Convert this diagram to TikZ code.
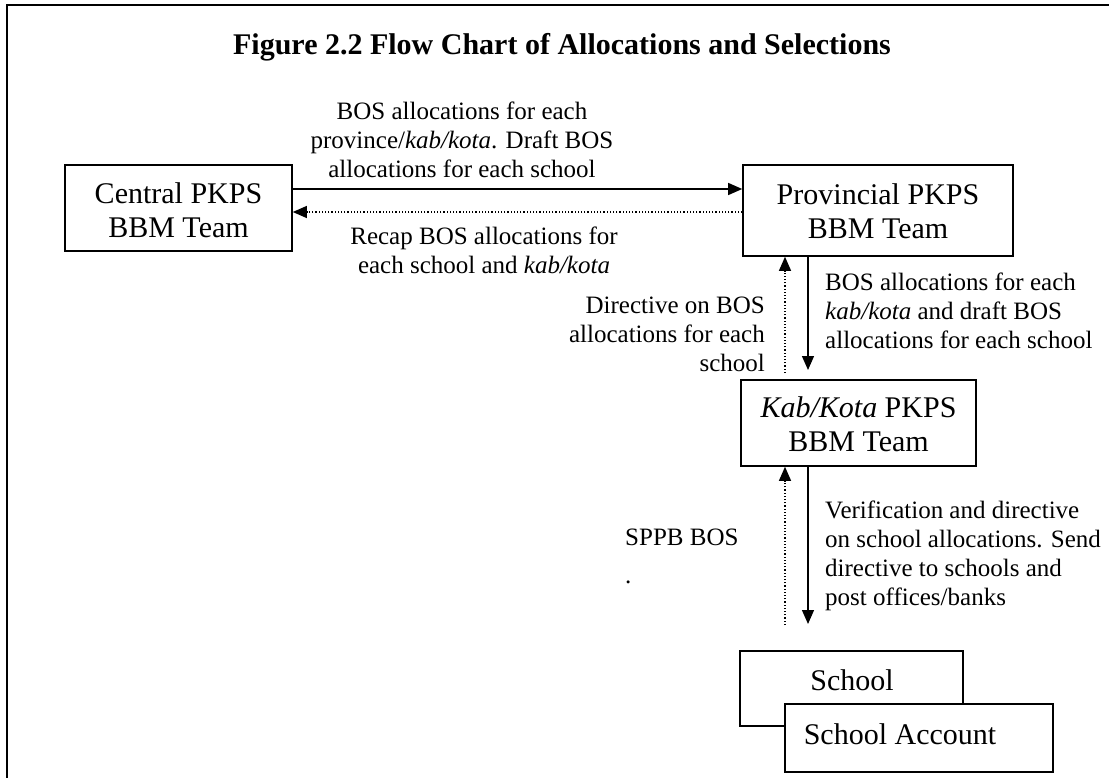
\documentclass[tikz,border=0pt]{standalone}
\usepackage{fontspec}
\setmainfont{Liberation Serif}
\usetikzlibrary{arrows.meta}
\tikzset{
  box/.style={draw, line width=1.6pt, fill=white, inner sep=0pt},
  bigtxt/.style={font=\fontsize{30}{34}\selectfont, align=center, inner sep=0pt},
  smalltxt/.style={font=\fontsize{25}{29}\selectfont, inner sep=0pt},
  arr/.style={line width=1.3pt, -{Triangle[width=12pt,length=14pt]}},
  dotarr/.style={line width=1.1pt, dash pattern=on 1.2pt off 2pt, -{Triangle[width=12pt,length=14pt]}},
}
\begin{document}
\begin{tikzpicture}[x=1pt,y=-1pt]
\useasboundingbox (0,0) rectangle (1109,778);
% outer frame
\draw[line width=2pt] (7,780) -- (7,5) -- (1111,5);
% title
\node[font=\fontsize{30}{34}\selectfont\bfseries, inner sep=0pt] (title) at (562,47) {Figure 2.2 Flow Chart of Allocations and Selections};
% boxes
\node[box, minimum width=227pt, minimum height=86pt] (central) at (178.5,208) {};
\node[bigtxt] (centraltxt) at (178.5,210) {Central PKPS\\BBM Team};
\node[box, minimum width=270pt, minimum height=91pt] (prov) at (878,210.5) {};
\node[bigtxt] (provtxt) at (878,211) {Provincial PKPS\\BBM Team};
\node[box, minimum width=235pt, minimum height=86pt] (kab) at (858.5,423) {};
\node[bigtxt] (kabtxt) at (858.5,424) {\textit{Kab/Kota} PKPS\\BBM Team};
\node[box, minimum width=223pt, minimum height=75pt] (school) at (851.5,688.5) {};
\node[bigtxt] (schooltxt) at (852,680) {School};
\node[box, minimum width=268pt, minimum height=68pt] (account) at (919,738) {};
\node[bigtxt] (accounttxt) at (900,734) {School Account};
% horizontal arrows
\draw[arr] (central.east |- 0,189) -- (prov.west |- 0,189);
\draw[dotarr] (prov.west |- 0,212) -- (central.east |- 0,212);
% labels top
\node[smalltxt, align=center] (lab1) at (462,140) {BOS allocations for each\\province/\textit{kab/kota}. Draft BOS\\allocations for each school};
\node[smalltxt, align=center] (lab2) at (484,250) {Recap BOS allocations for\\each school and \textit{kab/kota}};
% vertical arrows between prov and kab
\coordinate (d1end) at (808,370);
\coordinate (u1start) at (785,373);
\draw[arr] (prov.south -| 808,0) -- (d1end);
\draw[dotarr] (u1start) -- (prov.south -| 785,0);
\node[smalltxt, align=right, anchor=east] (lab3) at (765,334) {Directive on BOS\\allocations for each\\school};
\node[smalltxt, align=left, anchor=west] (lab4) at (825,311) {BOS allocations for each\\\textit{kab/kota} and draft BOS\\allocations for each school};
% vertical arrows between kab and school
\coordinate (d2end) at (808,624);
\coordinate (u2start) at (785,625);
\draw[arr] (kab.south -| 808,0) -- (d2end);
\draw[dotarr] (u2start) -- (kab.south -| 785,0);
\node[smalltxt, anchor=west] (lab5) at (625,537) {SPPB BOS};
\node[smalltxt, anchor=west] (lab6) at (625,582) {.};
\node[smalltxt, align=left, anchor=west] (lab7) at (825,556) {Verification and directive\\on school allocations. Send\\directive to schools and\\post offices/banks};
\end{tikzpicture}
\end{document}
